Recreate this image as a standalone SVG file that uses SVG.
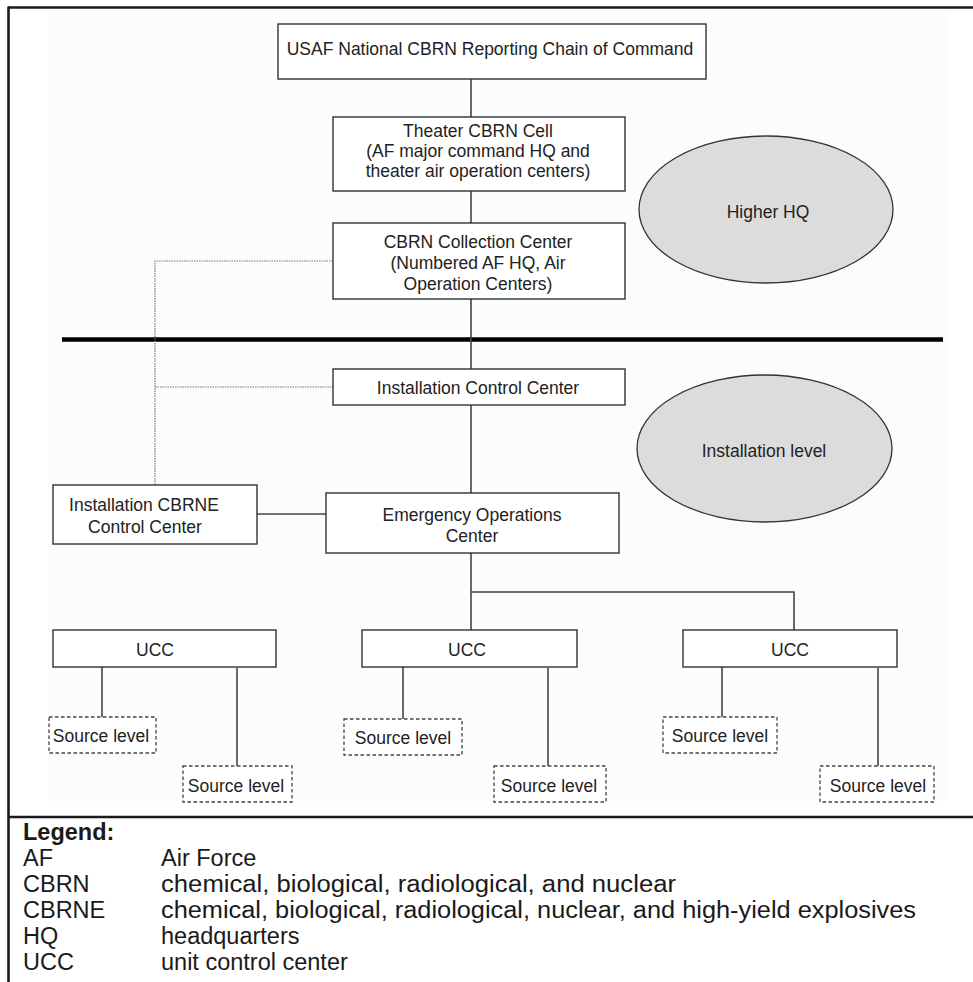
<svg xmlns="http://www.w3.org/2000/svg" width="973" height="982" viewBox="0 0 973 982">
<style>
  .box{fill:#ffffff;stroke:#333333;stroke-width:1.4}
  .src{fill:#ffffff;stroke:#444444;stroke-width:1.3;stroke-dasharray:3.5 2.5}
  .ell{fill:#dcdcdc;stroke:#333333;stroke-width:1.3}
  .t{font-family:"Liberation Sans",Arial,sans-serif;font-size:17.5px;fill:#222222;text-anchor:middle}
  .lg{font-family:"Liberation Sans",Arial,sans-serif;font-size:23.5px;fill:#1a1a1a}
  .conn line,.conn path{stroke:#444444;stroke-width:1.6;fill:none}
  .conn .dot{stroke:#777777;stroke-width:1.2;stroke-dasharray:1.5 1}
</style>
<rect x="0" y="0" width="973" height="982" fill="#ffffff"/>
<rect x="48" y="13" width="899" height="788" fill="#fbfcfd"/>
<g id="frame" stroke="#1a1a1a" stroke-width="2.6" fill="none">
  <line x1="8" y1="7.5" x2="973" y2="7.5"/>
  <line x1="8.5" y1="6.5" x2="8.5" y2="982"/>
  <line x1="8" y1="817" x2="973" y2="817"/>
</g>
<line id="divider" x1="62" y1="339.5" x2="943" y2="339.5" stroke="#000000" stroke-width="4.5"/>

<g class="conn" id="connectors">
  <line x1="471" y1="79" x2="471" y2="117"/>
  <line x1="471" y1="191" x2="471" y2="223"/>
  <line x1="471" y1="299" x2="471" y2="369"/>
  <line x1="471" y1="405" x2="471" y2="493"/>
  <line x1="257" y1="514" x2="326" y2="514"/>
  <line x1="471" y1="553" x2="471" y2="630"/>
  <path d="M471 592 H794 V630"/>
  <line x1="102" y1="667" x2="102" y2="717"/>
  <line x1="237" y1="668" x2="237" y2="766"/>
  <line x1="403" y1="667" x2="403" y2="719"/>
  <line x1="548" y1="668" x2="548" y2="766"/>
  <line x1="722" y1="667" x2="722" y2="717"/>
  <line x1="878" y1="668" x2="878" y2="766"/>
  <path class="dot" d="M333 261 H155 V485"/>
  <line class="dot" x1="155" y1="387" x2="333" y2="387"/>
</g>

<g id="usaf-national">
  <rect class="box" x="278" y="24" width="428" height="55"/>
  <text class="t" x="490" y="55">USAF National CBRN Reporting Chain of Command</text>
</g>
<g id="theater-cell">
  <rect class="box" x="333" y="117" width="292" height="74"/>
  <text class="t" x="478" y="137">Theater CBRN Cell</text>
  <text class="t" x="478" y="157">(AF major command HQ and</text>
  <text class="t" x="478" y="177">theater air operation centers)</text>
</g>
<g id="collection-center">
  <rect class="box" x="333" y="223" width="292" height="76"/>
  <text class="t" x="478" y="248">CBRN Collection Center</text>
  <text class="t" x="478" y="269">(Numbered AF HQ, Air</text>
  <text class="t" x="478" y="290">Operation Centers)</text>
</g>
<g id="higher-hq">
  <ellipse class="ell" cx="766" cy="209.5" rx="127" ry="73.5"/>
  <text class="t" x="768" y="218">Higher HQ</text>
</g>
<g id="installation-control">
  <rect class="box" x="333" y="369" width="292" height="36"/>
  <text class="t" x="478" y="394">Installation Control Center</text>
</g>
<g id="installation-level">
  <ellipse class="ell" cx="764.5" cy="448.5" rx="127.5" ry="73.5"/>
  <text class="t" x="764" y="457">Installation level</text>
</g>
<g id="cbrne-control">
  <rect class="box" x="53" y="485" width="204" height="59"/>
  <text class="t" x="144" y="511">Installation CBRNE</text>
  <text class="t" x="145" y="533">Control Center</text>
</g>
<g id="eoc">
  <rect class="box" x="326" y="493" width="293" height="60"/>
  <text class="t" x="472" y="521">Emergency Operations</text>
  <text class="t" x="472" y="542">Center</text>
</g>
<g id="ucc-1">
  <rect class="box" x="53" y="630" width="223" height="37"/>
  <text class="t" x="155" y="656">UCC</text>
</g>
<g id="ucc-2">
  <rect class="box" x="362" y="630" width="215" height="37"/>
  <text class="t" x="467" y="656">UCC</text>
</g>
<g id="ucc-3">
  <rect class="box" x="683" y="630" width="214" height="37"/>
  <text class="t" x="790" y="656">UCC</text>
</g>
<g id="source-1a">
  <rect class="src" x="49" y="717" width="107" height="36"/>
  <text class="t" x="101" y="742">Source level</text>
</g>
<g id="source-1b">
  <rect class="src" x="183" y="766" width="109" height="36"/>
  <text class="t" x="236" y="792">Source level</text>
</g>
<g id="source-2a">
  <rect class="src" x="344" y="719" width="118" height="36"/>
  <text class="t" x="403" y="744">Source level</text>
</g>
<g id="source-2b">
  <rect class="src" x="494" y="766" width="112" height="36"/>
  <text class="t" x="549" y="792">Source level</text>
</g>
<g id="source-3a">
  <rect class="src" x="663" y="717" width="114" height="36"/>
  <text class="t" x="720" y="742">Source level</text>
</g>
<g id="source-3b">
  <rect class="src" x="820" y="766" width="114" height="36"/>
  <text class="t" x="878" y="792">Source level</text>
</g>

<g id="legend">
  <text class="lg" x="23" y="840" font-weight="bold">Legend:</text>
  <text class="lg" x="23" y="866">AF</text>
  <text class="lg" x="161" y="866">Air Force</text>
  <text class="lg" x="23" y="892">CBRN</text>
  <text class="lg" x="161" y="892" textLength="515" lengthAdjust="spacingAndGlyphs">chemical, biological, radiological, and nuclear</text>
  <text class="lg" x="23" y="918">CBRNE</text>
  <text class="lg" x="161" y="918" textLength="755" lengthAdjust="spacingAndGlyphs">chemical, biological, radiological, nuclear, and high-yield explosives</text>
  <text class="lg" x="23" y="944">HQ</text>
  <text class="lg" x="161" y="944">headquarters</text>
  <text class="lg" x="23" y="970">UCC</text>
  <text class="lg" x="161" y="970">unit control center</text>
</g>
</svg>
